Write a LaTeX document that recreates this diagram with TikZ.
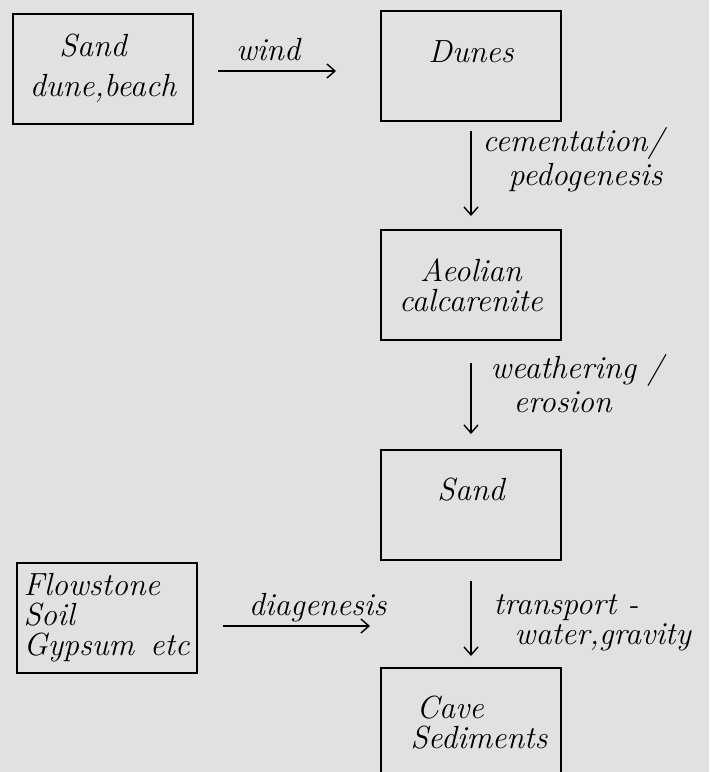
\documentclass[tikz,border=0pt]{standalone}
\usepackage{tikz}
\usetikzlibrary{arrows.meta}

\definecolor{paper}{HTML}{E1E1E1}
\tikzset{
  stage/.style={draw, line width=1pt, minimum width=90pt, minimum height=55pt,
    inner sep=2pt, align=center, font=\fontsize{16}{15}\selectfont\itshape},
  onerow/.style={text height=11pt, text depth=15pt},
  link/.style={-{Straight Barb[length=4pt,width=7pt]}, line width=0.7pt},
  note/.style={inner sep=0pt, align=left, font=\fontsize{16}{17}\selectfont\itshape}
}

\begin{document}
\begin{tikzpicture}[x=0.5pt, y=-0.5pt]
\useasboundingbox[fill=paper] (0,0) rectangle (709,772);
\clip (0,0) rectangle (709,772);

\node[stage, font=\fontsize{16}{20}\selectfont\itshape] (sandb) at (103,68.5) {Sand\hspace*{10pt}\\dune,beach};
\node[stage, onerow] (dunes) at (471,66) {Dunes};
\node[stage] (aeolian) at (471,285) {Aeolian\\calcarenite};
\node[stage, onerow] (sand) at (471,504.5) {Sand};
\node[stage, align=left] (flowstone) at (106.5,617.5) {Flowstone\\Soil\\Gypsum\hspace{8pt}etc};
\node[stage, align=left] (cave) at (471,723) {\hspace*{3pt}Cave\\Sediments\hspace*{-8pt}};
\coordinate (diagend) at (370,626);

\draw[link, shorten <=12pt, shorten >=22pt] ([yshift=-1.25pt]sandb.east) -- ([yshift=-1.25pt]sandb.east -| dunes.west)
  node[note, midway, anchor=base, yshift=5.5pt, xshift=-9.5pt] {wind};
\draw[link, shorten <=4.5pt, shorten >=6.5pt] (dunes) -- (aeolian)
  node[note, pos=0.35, anchor=west, xshift=5.5pt] {cementation/\\\hspace*{13pt}pedogenesis};
\draw[link, shorten <=11pt, shorten >=7.25pt] (aeolian) -- (sand)
  node[note, pos=0.40, anchor=west, xshift=9.5pt] {weathering /\\\hspace*{11.5pt}erosion};
\draw[link, shorten <=10.25pt, shorten >=5.5pt] (sand) -- (cave)
  node[note, pos=0.58, anchor=west, xshift=11pt, font=\fontsize{16}{15}\selectfont\itshape] {transport -\\\hspace*{10.5pt}water,gravity};
\draw[link, shorten <=12.75pt] ([yshift=-4.25pt]flowstone.east) -- (diagend)
  node[note, midway, anchor=base, yshift=5.5pt, xshift=16.9pt] {diagenesis};
\end{tikzpicture}
\end{document}
